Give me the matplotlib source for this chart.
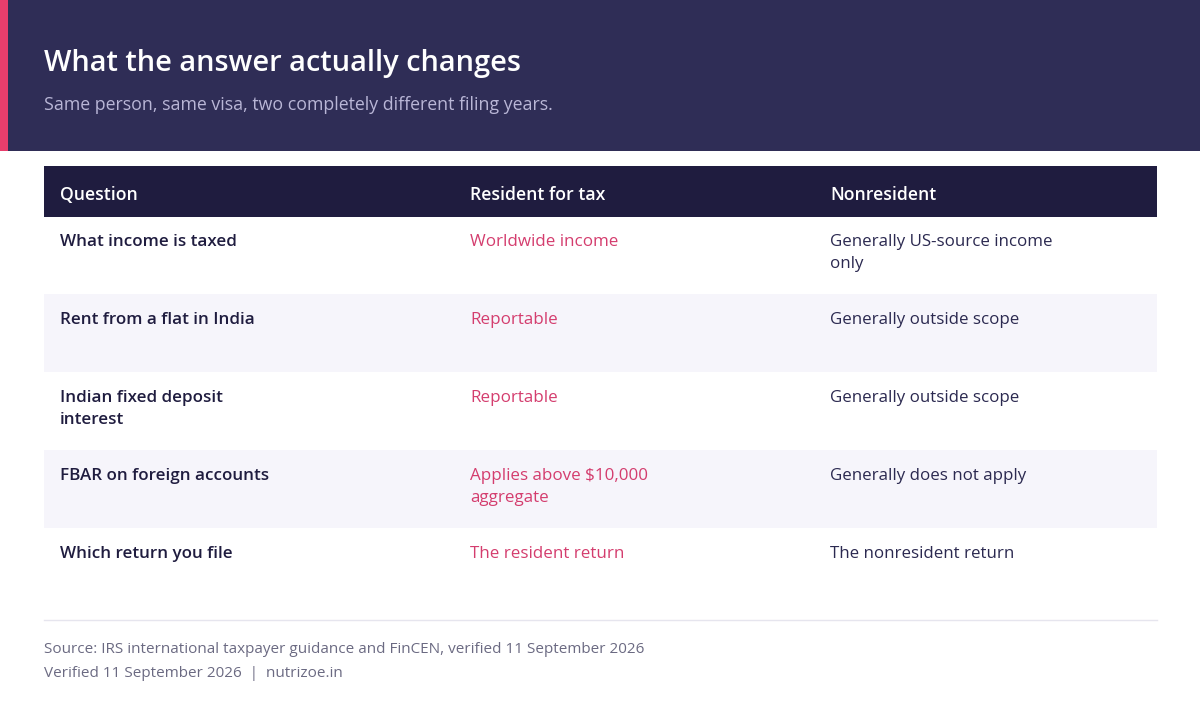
import matplotlib
matplotlib.use('Agg')
import matplotlib.pyplot as plt
from matplotlib.patches import Rectangle

plt.rcParams['font.family'] = ['Open Sans', 'DejaVu Sans']

title = 'What the answer actually changes'
subtitle = 'Same person, same visa, two completely different filing years.'
columns = ['Question', 'Resident for tax', 'Nonresident']
questions = ['What income is taxed', 'Rent from a flat in India', 'Indian fixed deposit\ninterest',
             'FBAR on foreign accounts', 'Which return you file']
resident = ['Worldwide income', 'Reportable', 'Reportable',
            'Applies above $10,000\naggregate', 'The resident return']
nonresident = ['Generally US-source income\nonly', 'Generally outside scope', 'Generally outside scope',
               'Generally does not apply', 'The nonresident return']
source = 'Source: IRS international taxpayer guidance and FinCEN, verified 11 September 2026'
footer = 'Verified 11 September 2026  |  nutrizoe.in'

W, H = 1200, 726
fig = plt.figure(figsize=(W / 100, H / 100), dpi=100, facecolor='white')
ax = fig.add_axes([0, 0, 1, 1])
ax.set_xlim(0, W)
ax.set_ylim(H, 0)
ax.axis('off')

def box(x, y, w, h, c):
    ax.add_patch(Rectangle((x, y), w, h, facecolor=c, edgecolor='none'))

# one text per line so the baselines stay at fixed pixel rows
def lines(x, y, s, **kw):
    for k, part in enumerate(s.split('\n')):
        ax.text(x, y + 22 * k, part, va='baseline', **kw)

box(0, 0, W, 150.5, '#2f2d56')
box(0, 0, 8, 150.5, '#e83e6c')
lines(44, 71.5, title, color='white', fontsize=20.85, weight='semibold')
lines(44, 110, subtitle, color='#b9b6d6', fontsize=12.8)

col_x = [60, 470, 830]
box(44, 166, 1113, 50.5, '#1f1c3f')
for x, c in zip(col_x, columns):
    lines(x, 200, c, color='white', fontsize=12.7, weight='semibold')

row_y = [216.5, 294, 372, 450, 528]
row_h = [77.5, 78, 78, 78, 78]
text_y = [246, 324, 402, 480, 558]
for i, y in enumerate(row_y):
    if i % 2 == 1:
        box(44, y, 1113, row_h[i], '#f6f5fb')
    lines(col_x[0], text_y[i], questions[i], color='#1f1c3f', weight='semibold', fontsize=12.25)
    lines(col_x[1], text_y[i], resident[i], color='#d43d6e', fontsize=12.22)
    lines(col_x[2], text_y[i], nonresident[i], color='#2b2950', fontsize=12.2)

ax.plot([44, 1157], [620, 620], color='#e6e5ee', lw=1)
lines(44, 653, source, color='#6b6a82', fontsize=10.97)
lines(44, 677, footer, color='#6b6a82', fontsize=10.97)

fig.savefig('out.png', dpi=100)
